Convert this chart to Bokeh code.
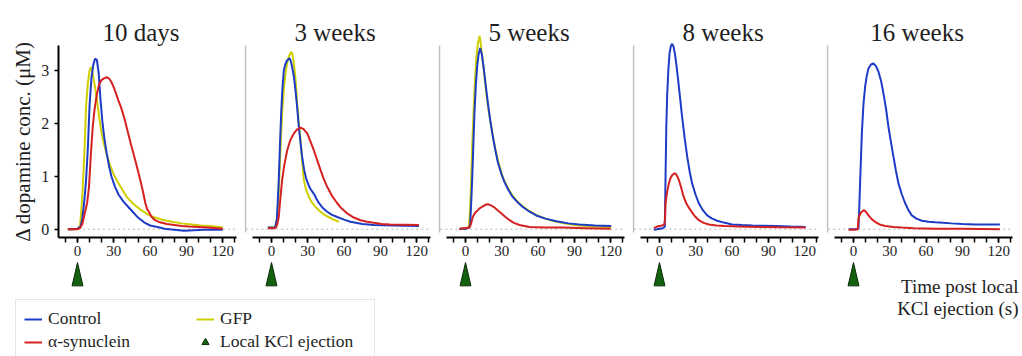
import math
from bokeh.plotting import figure
from bokeh.layouts import row, column
from bokeh.models import (Range1d, Label, Legend, LegendItem,
                          SingleIntervalTicker, FixedTicker)
from bokeh.embed import file_html
from bokeh.resources import INLINE

# ---------------- data ----------------
titles = ["10 days", "3 weeks", "5 weeks", "8 weeks", "16 weeks"]
y_ticks = [0, 1, 2, 3]
kcl_time = 0
baseline_level = 0
series_names = ["Control", "α-synuclein", "GFP", "Local KCl ejection"]

# 10 days
d10_ctrl_t = [-8, -4, 0, 2.5, 4, 5.5, 7, 8.5, 10, 11.5, 13, 14.5, 16, 17.5, 19, 20.5, 22, 24, 26, 28, 31, 34, 38, 42, 46, 50, 55, 60, 66, 72, 80, 88, 96, 104, 112, 120]
d10_ctrl = [0.0, 0.0, 0.01, 0.05, 0.2, 0.5, 0.9, 1.5, 2.35, 2.85, 3.1, 3.22, 3.2, 2.95, 2.45, 2.05, 1.75, 1.45, 1.2, 1.0, 0.8, 0.65, 0.52, 0.42, 0.32, 0.22, 0.13, 0.07, 0.04, 0.01, -0.01, -0.03, -0.02, -0.01, -0.01, -0.01]
d10_gfp_t = [-8, -4, 0, 2, 3, 4, 5, 6, 7, 8.5, 10, 11, 12.5, 14, 16, 18, 20, 22, 24, 27, 30, 33, 37, 41, 46, 52, 58, 64, 70, 78, 86, 94, 102, 110, 118, 120]
d10_gfp = [0.0, 0.0, 0.0, 0.05, 0.3, 0.65, 1.1, 1.6, 2.3, 2.75, 3.0, 3.06, 2.95, 2.75, 2.45, 2.1, 1.8, 1.6, 1.42, 1.2, 1.03, 0.9, 0.75, 0.6, 0.48, 0.37, 0.28, 0.22, 0.18, 0.14, 0.11, 0.09, 0.07, 0.06, 0.04, 0.03]
d10_syn_t = [-8, -4, 0, 2, 4, 6, 8, 9.5, 11, 12.5, 14, 16, 18, 20, 22, 24, 26, 28, 30, 32, 34, 36, 38, 40, 42, 44, 46, 48, 50, 52, 54, 56, 57.5, 59, 61, 64, 68, 74, 80, 86, 92, 100, 108, 115, 120]
d10_syn = [0.0, 0.0, 0.0, 0.02, 0.1, 0.3, 0.5, 0.8, 1.4, 1.9, 2.25, 2.55, 2.75, 2.82, 2.85, 2.87, 2.85, 2.78, 2.68, 2.55, 2.42, 2.3, 2.15, 1.98, 1.8, 1.62, 1.45, 1.28, 1.1, 0.92, 0.72, 0.5, 0.38, 0.33, 0.24, 0.17, 0.13, 0.1, 0.08, 0.06, 0.05, 0.04, 0.03, 0.02, 0.01]

# 3 weeks
w3_ctrl_t = [-3, 0, 3, 4.5, 6, 7, 8, 9, 10.2, 11.5, 13, 14.9, 16, 17, 18.5, 19.8, 21.2, 22.6, 24, 25.3, 27, 28.7, 30.5, 32.2, 34, 35.5, 37, 39, 42, 46, 50, 54.3, 60, 65.3, 75, 84.6, 100, 121.8]
w3_ctrl = [0.03, 0.03, 0.03, 0.2, 0.93, 1.6, 2.19, 2.65, 3.0, 3.12, 3.19, 3.23, 3.17, 3.07, 2.88, 2.63, 2.3, 1.93, 1.63, 1.37, 1.12, 0.95, 0.84, 0.76, 0.7, 0.65, 0.58, 0.5, 0.41, 0.33, 0.27, 0.23, 0.18, 0.14, 0.1, 0.08, 0.07, 0.06]
w3_gfp_t = [-3, 0, 3, 4.7, 6, 6.9, 8, 8.8, 10.2, 11.6, 13, 14.3, 16.5, 17.5, 18.5, 19.8, 21.2, 22.6, 24, 25.3, 26.7, 28.5, 30.9, 33.5, 36.4, 40, 43.3, 47, 51.5, 55.6]
w3_gfp = [0.03, 0.03, 0.03, 0.23, 0.7, 1.24, 1.8, 2.19, 2.65, 2.94, 3.15, 3.26, 3.35, 3.28, 3.13, 2.85, 2.38, 2.0, 1.68, 1.3, 0.93, 0.75, 0.61, 0.5, 0.42, 0.34, 0.28, 0.23, 0.18, 0.14]
w3_syn_t = [-3, 0, 3, 4.1, 5, 6, 7, 8.8, 10.5, 13, 15.5, 18.5, 21, 24, 26.5, 29.5, 32, 35, 37.5, 40.5, 43, 46, 50, 54.3, 58, 62.5, 68, 73.6, 79, 84.6, 91, 98, 110, 121.8]
w3_syn = [0.02, 0.02, 0.02, 0.05, 0.12, 0.23, 0.5, 0.93, 1.2, 1.49, 1.68, 1.81, 1.88, 1.92, 1.89, 1.81, 1.67, 1.49, 1.32, 1.12, 0.96, 0.8, 0.63, 0.49, 0.39, 0.3, 0.22, 0.17, 0.14, 0.12, 0.1, 0.09, 0.085, 0.08]

# 5 weeks
w5_ctrl_t = [-5, 0, 3, 3.9, 4.7, 5.5, 6.5, 7.4, 8.5, 9.6, 10.8, 12.1, 13.5, 14.9, 16.7, 18.5, 20.5, 22.6, 24.6, 26.7, 29.4, 32.2, 35.5, 39, 43, 47.4, 53, 58.4, 66, 75, 85, 94, 107, 120.4]
w5_ctrl = [0.01, 0.01, 0.03, 0.1, 0.5, 0.93, 1.6, 2.19, 2.7, 3.07, 3.3, 3.42, 3.3, 3.07, 2.72, 2.38, 2.05, 1.75, 1.5, 1.27, 1.06, 0.89, 0.74, 0.61, 0.51, 0.42, 0.33, 0.26, 0.2, 0.15, 0.11, 0.09, 0.07, 0.06]
w5_gfp_t = [-5, 0, 2.8, 3.8, 4.7, 5.6, 6.6, 7.7, 8.8, 10.2, 11.6, 12.7, 13.8, 15.4, 17, 19, 21.2, 23.2, 25.3, 28, 30.9, 35, 39, 43, 47.4, 53, 58.4, 66, 75, 85, 94, 107, 120.4]
w5_gfp = [0.01, 0.01, 0.04, 0.4, 0.93, 1.6, 2.19, 2.75, 3.19, 3.5, 3.65, 3.5, 3.26, 2.95, 2.6, 2.25, 1.95, 1.68, 1.45, 1.2, 0.98, 0.78, 0.63, 0.52, 0.43, 0.34, 0.27, 0.2, 0.14, 0.1, 0.07, 0.05, 0.04]
w5_syn_t = [-5, -2, 0, 3.3, 4.5, 6, 8, 10.2, 12, 14.3, 16.5, 18.5, 21, 24, 26.5, 29.5, 33, 36.4, 40, 44.6, 52.9, 65, 80, 100, 120]
w5_syn = [0.0, 0.02, 0.02, 0.03, 0.1, 0.23, 0.31, 0.36, 0.4, 0.43, 0.46, 0.47, 0.45, 0.41, 0.36, 0.3, 0.23, 0.17, 0.12, 0.08, 0.04, 0.03, 0.03, 0.02, 0.01]

# 8 weeks
w8_ctrl_t = [-4.7, -2, 0, 3, 4.4, 5, 5.6, 6.3, 7.3, 8.3, 9.4, 10.5, 11.6, 12.7, 14, 15.4, 17, 18.7, 20.8, 22.9, 25, 27, 29.7, 32.5, 35.8, 39.4, 43.5, 47.7, 54, 60, 68, 76.6, 86, 95.9, 108, 120.7]
w8_ctrl = [-0.01, 0.0, 0.01, 0.02, 0.05, 1.0, 1.9, 2.5, 3.0, 3.32, 3.46, 3.5, 3.45, 3.32, 3.1, 2.82, 2.48, 2.12, 1.72, 1.37, 1.08, 0.86, 0.66, 0.49, 0.36, 0.26, 0.2, 0.16, 0.12, 0.09, 0.08, 0.07, 0.065, 0.06, 0.05, 0.04]
w8_syn_t = [-4.7, -2, 0, 2, 4, 4.6, 5, 6.3, 7.7, 9, 10.5, 12, 13.2, 14.6, 16, 18, 20, 22.5, 25.6, 29, 32.5, 36.5, 40.8, 47, 54.5, 65, 82, 100, 120.7]
w8_syn = [0.02, 0.05, 0.06, 0.07, 0.09, 0.2, 0.49, 0.7, 0.86, 0.96, 1.02, 1.05, 1.05, 1.0, 0.93, 0.78, 0.61, 0.47, 0.36, 0.25, 0.17, 0.12, 0.09, 0.07, 0.06, 0.05, 0.04, 0.035, 0.03]

# 16 weeks
w16_ctrl_t = [-4, 0, 3, 4.1, 4.6, 5.5, 6.9, 8.2, 9.6, 11, 12.4, 14.5, 16.5, 18.6, 20.7, 22.8, 24.8, 26.9, 28.9, 31, 33, 35.1, 37.2, 39.9, 42.7, 45.4, 48.2, 52, 56.5, 62, 67.5, 74, 81, 90, 100.6, 110, 121]
w16_ctrl = [0.0, 0.0, 0.0, 0.02, 0.3, 0.9, 1.81, 2.35, 2.69, 2.9, 3.04, 3.11, 3.13, 3.08, 2.97, 2.8, 2.56, 2.27, 1.93, 1.64, 1.37, 1.1, 0.86, 0.66, 0.49, 0.36, 0.26, 0.2, 0.16, 0.14, 0.13, 0.12, 0.11, 0.1, 0.09, 0.09, 0.09]
w16_syn_t = [-4, 0, 3.5, 4.1, 5.5, 6.9, 8.8, 10.5, 12.4, 15, 17.9, 21.5, 26.2, 33, 40, 50, 67.5, 90, 121]
w16_syn = [-0.01, -0.01, 0.0, 0.2, 0.29, 0.33, 0.36, 0.32, 0.26, 0.19, 0.14, 0.09, 0.06, 0.04, 0.03, 0.02, 0.01, 0.01, 0.0]

panels = [
    (titles[0], (d10_ctrl_t, d10_ctrl), (d10_syn_t, d10_syn), (d10_gfp_t, d10_gfp)),
    (titles[1], (w3_ctrl_t, w3_ctrl), (w3_syn_t, w3_syn), (w3_gfp_t, w3_gfp)),
    (titles[2], (w5_ctrl_t, w5_ctrl), (w5_syn_t, w5_syn), (w5_gfp_t, w5_gfp)),
    (titles[3], (w8_ctrl_t, w8_ctrl), (w8_syn_t, w8_syn), None),
    (titles[4], (w16_ctrl_t, w16_ctrl), (w16_syn_t, w16_syn), None),
]

# ---------------- style / geometry ----------------
FONT = "Liberation Serif"
C_CTRL = "#1d3cc6"
C_SYN = "#d52121"
C_GFP = "#cfcf00"
TRI_FILL = "#13600f"
TRI_LINE = "#0b2e0b"
GREY = "#bdbdbd"
TXT = "#1e1e1e"

PX_PER_S = 1.21          # horizontal scale (px per second)
PX_PER_UNIT = 52.95      # vertical scale (px per µM)
ZERO_PX = 228.7          # vertical pixel of y = 0 from page top
FIG_W = [244, 194, 194, 194, 196]
ZERO_OFFSET = [77, 27, 27, 27, 27]   # px from figure left to t = 0
SHORT_H, FULL_H = 287, 356
AX_START, AX_END = -16, 131.5
X_AXIS_AT = -0.15
Y_AXIS_TOP = 3.47
TITLE_X, TITLE_Y = 52.5, 3.72
TRI_HALF, TRI_TOP, TRI_BOTTOM = 4.5, -0.63, -1.07


def make_panel(i, title, ctrl, syn, gfp):
    first = i == 0
    last = i == len(panels) - 1
    w = FIG_W[i]
    h = SHORT_H if i < 2 else FULL_H
    x0 = -ZERO_OFFSET[i] / PX_PER_S
    x1 = x0 + w / PX_PER_S
    y1 = ZERO_PX / PX_PER_UNIT
    y0 = -(h - ZERO_PX) / PX_PER_UNIT
    p = figure(width=w, height=h, x_range=Range1d(x0, x1), y_range=Range1d(y0, y1),
               output_backend="svg", toolbar_location=None, min_border=0)
    p.outline_line_color = None
    p.grid.visible = False

    xa = p.xaxis[0]
    xa.ticker = SingleIntervalTicker(interval=30, num_minor_ticks=3)
    xa.bounds = (AX_START, AX_END)
    xa.fixed_location = X_AXIS_AT
    xa.axis_line_width = 2
    xa.axis_line_color = "black"
    xa.major_tick_in = 0
    xa.major_tick_out = 5
    xa.minor_tick_in = 0
    xa.minor_tick_out = 5
    xa.major_tick_line_width = 1.5
    xa.minor_tick_line_width = 1.5
    xa.major_tick_line_color = "black"
    xa.minor_tick_line_color = "black"
    xa.major_label_text_font = FONT
    xa.major_label_text_font_size = "15px"
    xa.major_label_text_color = TXT
    xa.major_label_standoff = 4

    ya = p.yaxis[0]
    if first:
        ya.ticker = FixedTicker(ticks=y_ticks)
        ya.fixed_location = AX_START
        ya.bounds = (X_AXIS_AT, Y_AXIS_TOP)
        ya.axis_line_width = 2
        ya.axis_line_color = "black"
        ya.minor_tick_line_color = None
        ya.major_tick_in = 0
        ya.major_tick_out = 4
        ya.major_tick_line_width = 1.5
        ya.major_label_text_font = FONT
        ya.major_label_text_font_size = "16px"
        ya.major_label_text_color = TXT
        ya.major_label_standoff = 5
        p.add_layout(Label(x=(22 - ZERO_OFFSET[0]) / PX_PER_S, y=1.66,
                           text="Δ dopamine conc. (μM)", angle=math.pi / 2,
                           text_align="center", text_baseline="middle",
                           text_font=FONT, text_font_size="21px", text_color=TXT))
        zx0 = -8
    else:
        ya.ticker = FixedTicker(ticks=[])
        ya.fixed_location = x0 + 0.5 / PX_PER_S
        ya.bounds = (-0.06, Y_AXIS_TOP)
        ya.axis_line_color = GREY
        ya.axis_line_width = 1.5
        ya.major_tick_line_color = None
        ya.minor_tick_line_color = None
        zx0 = x0 + 1.5
    # dotted zero reference line
    p.line([zx0, AX_END], [baseline_level, baseline_level], line_color="#b5b5b5",
           line_dash="2 3", line_width=1)

    if gfp is not None:
        p.line(gfp[0], gfp[1], line_color=C_GFP, line_width=2)
    p.line(ctrl[0], ctrl[1], line_color=C_CTRL, line_width=2)
    p.line(syn[0], syn[1], line_color=C_SYN, line_width=2)

    p.patch([kcl_time - TRI_HALF, kcl_time, kcl_time + TRI_HALF],
            [TRI_BOTTOM, TRI_TOP, TRI_BOTTOM],
            fill_color=TRI_FILL, line_color=TRI_LINE, line_width=1)

    p.add_layout(Label(x=TITLE_X, y=TITLE_Y, text=title, text_align="center",
                       text_baseline="alphabetic", text_font=FONT,
                       text_font_size="25px", text_color=TXT))
    if last:
        xr = x1 - 4 / PX_PER_S
        p.add_layout(Label(x=xr, y=-1.09, text="Time post local", text_align="right",
                           text_baseline="alphabetic", text_font=FONT,
                           text_font_size="19px", text_color=TXT))
        p.add_layout(Label(x=xr, y=-1.50, text="KCl ejection (s)", text_align="right",
                           text_baseline="alphabetic", text_font=FONT,
                           text_font_size="19px", text_color=TXT))
    return p


figs = [make_panel(i, *pn) for i, pn in enumerate(panels)]

# ---------------- legend ----------------
nan = float("nan")
leg = figure(width=FIG_W[0] + FIG_W[1], height=FULL_H - SHORT_H,
             x_range=Range1d(0, 1), y_range=Range1d(0, 1),
             x_axis_type=None, y_axis_type=None,
             output_backend="svg", toolbar_location=None, min_border=0)
leg.outline_line_color = None
leg.grid.visible = False
r_ctrl = leg.line([nan, nan], [nan, nan], line_color=C_CTRL, line_width=2)
r_syn = leg.line([nan, nan], [nan, nan], line_color=C_SYN, line_width=2)
r_gfp = leg.line([nan, nan], [nan, nan], line_color=C_GFP, line_width=2)
r_tri = leg.scatter([nan], [nan], marker="triangle", size=10,
                    fill_color=TRI_FILL, line_color=TRI_LINE)
legend = Legend(items=[LegendItem(label=series_names[0], renderers=[r_ctrl]),
                       LegendItem(label=series_names[1], renderers=[r_syn]),
                       LegendItem(label=series_names[2], renderers=[r_gfp]),
                       LegendItem(label=series_names[3], renderers=[r_tri])],
                location=(15, -5), ncols=2, margin=0, padding=8, spacing=2,
                glyph_width=18, glyph_height=20, label_height=20, label_width=146,
                label_standoff=6, label_text_font=FONT, label_text_font_size="17.5px",
                label_text_color=TXT, border_line_color="#cccccc",
                border_line_width=1, background_fill_color="white")
leg.add_layout(legend)

layout = row(column(row(figs[0], figs[1]), leg), figs[2], figs[3], figs[4])

open("out.html", "w").write(file_html(layout, INLINE))
